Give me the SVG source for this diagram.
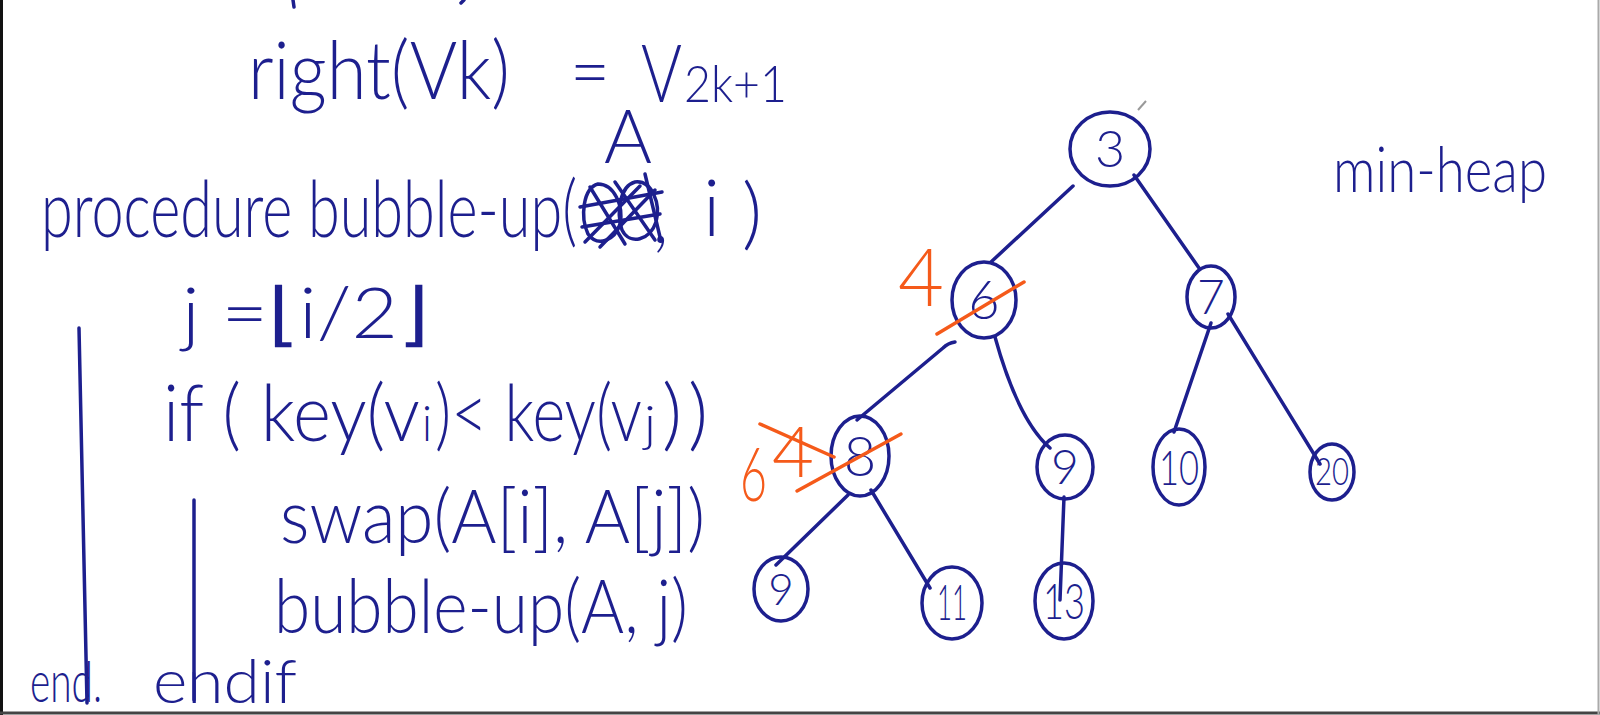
<svg xmlns="http://www.w3.org/2000/svg" width="1600" height="715" viewBox="0 0 1600 715">
<style>
.ink{fill:#1d1f8e;font-family:"Lato","Liberation Sans",sans-serif;font-weight:300}
.pen{fill:none;stroke:#1d1f8e;stroke-width:3.5;stroke-linecap:round;stroke-linejoin:round}
.node ellipse{fill:none;stroke:#1d1f8e;stroke-width:3.5}
.node text{fill:#1d1f8e;font-family:"Lato","Liberation Sans",sans-serif;font-weight:300;text-anchor:middle}
.or{fill:#f55a1a;font-family:"Lato","Liberation Sans",sans-serif;font-weight:300}
.orpen{fill:none;stroke:#f55a1a;stroke-width:3.5;stroke-linecap:round}
</style>
<rect width="1600" height="715" fill="#ffffff"/>
<g id="frame">
<line x1="1.5" y1="0" x2="1.5" y2="715" stroke="#111" stroke-width="3"/>
<line x1="0" y1="713" x2="1600" y2="713" stroke="#444" stroke-width="3"/>
<line x1="1598.5" y1="0" x2="1598.5" y2="715" stroke="#aaa" stroke-width="2"/>
</g>
<g id="top-fragments">
<path class="pen" d="M293,0 L294,7"/>
<path class="pen" d="M461,3 L464,0"/>
</g>
<g id="code">
<text class="ink" x="248" y="99" font-size="80" textLength="262" lengthAdjust="spacingAndGlyphs">right(Vk)</text>
<text class="ink" x="570" y="99" font-size="76" textLength="40" lengthAdjust="spacingAndGlyphs">=</text>
<text class="ink" x="641" y="102" font-size="80" textLength="41" lengthAdjust="spacingAndGlyphs">V</text>
<text class="ink" x="684" y="102" font-size="52" textLength="103" lengthAdjust="spacingAndGlyphs">2k+1</text>
<text class="ink" x="604" y="163" font-size="74" textLength="48" lengthAdjust="spacingAndGlyphs">A</text>
<text class="ink" x="41" y="237" font-size="78" textLength="536" lengthAdjust="spacingAndGlyphs">procedure bubble-up(</text>
<g id="scribble">
<path class="pen" d="M598,184 C583,188 580,217 588,234 C598,248 615,240 620,224 C624,206 614,184 598,184 Z"/>
<path class="pen" d="M635,182 C620,186 616,212 622,230 C630,246 650,240 656,222 C661,204 652,180 635,182 Z"/>
<path class="pen" d="M580,207 L662,192"/>
<path class="pen" d="M582,227 L660,214"/>
<path class="pen" d="M585,242 L640,186"/>
<path class="pen" d="M600,247 L655,190"/>
<path class="pen" d="M590,187 L625,244"/>
<path class="pen" d="M615,182 L655,240"/>
<path class="pen" d="M645,174 L660,237"/>
</g>
<text class="ink" x="652" y="243" font-size="78">,</text>
<text class="ink" x="703" y="236" font-size="78">i</text>
<text class="ink" x="742" y="240" font-size="78">)</text>
<text class="ink" x="182" y="338" font-size="70" textLength="247" lengthAdjust="spacingAndGlyphs">j =⌊i/2⌋</text>
<text class="ink" x="163" y="441" font-size="78" textLength="257" lengthAdjust="spacingAndGlyphs">if ( key(v</text>
<text class="ink" x="422" y="441" font-size="50" textLength="10" lengthAdjust="spacingAndGlyphs">i</text>
<text class="ink" x="435" y="441" font-size="78" textLength="207" lengthAdjust="spacingAndGlyphs">)&lt; key(v</text>
<text class="ink" x="644" y="441" font-size="50" textLength="12" lengthAdjust="spacingAndGlyphs">j</text>
<text class="ink" font-size="78"><tspan x="662" y="441">)</tspan><tspan x="688" y="441">)</tspan></text>
<text class="ink" x="280" y="543" font-size="74" textLength="425" lengthAdjust="spacingAndGlyphs">swap(A[i], A[j])</text>
<text class="ink" x="274" y="633" font-size="74" textLength="414" lengthAdjust="spacingAndGlyphs">bubble-up(A, j)</text>
<text class="ink" x="30" y="702" font-size="58" textLength="72" lengthAdjust="spacingAndGlyphs">end.</text>
<text class="ink" x="153" y="703" font-size="62" textLength="144" lengthAdjust="spacingAndGlyphs">endif</text>
<path class="pen" d="M79,328 L87,703"/>
<path class="pen" d="M194,500 L194,700"/>
</g>
<text class="ink" x="1333" y="192" font-size="64" textLength="214" lengthAdjust="spacingAndGlyphs">min-heap</text>
<g id="connectors">
<path class="pen" d="M1073,186 L991,262"/>
<path class="pen" d="M1134,175 L1199,268"/>
<path class="pen" d="M955,342 Q948,343 943,348 L857,420"/>
<path class="pen" d="M995,337 Q1018,420 1050,448"/>
<path class="pen" d="M1211,323 L1174,432"/>
<path class="pen" d="M1228,314 L1320,464"/>
<path class="pen" d="M848,495 L776,565"/>
<path class="pen" d="M871,490 L930,588"/>
<path class="pen" d="M1064,497 L1060,600"/>
</g>
<g id="node-3" class="node"><ellipse cx="1110" cy="149" rx="40" ry="37"/><text x="1110" y="167" font-size="52">3</text></g>
<g id="node-6" class="node"><ellipse cx="984" cy="300" rx="32" ry="38"/><text x="984" y="319" font-size="54">6</text></g>
<g id="node-7" class="node"><ellipse cx="1211" cy="297" rx="24" ry="31"/><text x="1211" y="314" font-size="48">7</text></g>
<g id="node-8" class="node"><ellipse cx="860" cy="456" rx="29" ry="40"/><text x="860" y="476" font-size="56">8</text></g>
<g id="node-9" class="node"><ellipse cx="1065" cy="467" rx="28" ry="32"/><text x="1065" y="484" font-size="48">9</text></g>
<g id="node-10" class="node"><ellipse cx="1179" cy="467" rx="26" ry="38"/><text x="1179" y="485" font-size="48" textLength="40" lengthAdjust="spacingAndGlyphs">10</text></g>
<g id="node-20" class="node"><ellipse cx="1332" cy="472" rx="22" ry="28"/><text x="1332" y="485" font-size="38" textLength="34" lengthAdjust="spacingAndGlyphs">20</text></g>
<g id="node-9b" class="node"><ellipse cx="781" cy="589" rx="27" ry="32"/><text x="781" y="605" font-size="44">9</text></g>
<g id="node-11" class="node"><ellipse cx="952" cy="603" rx="30" ry="36"/><text x="952" y="620" font-size="50" textLength="30" lengthAdjust="spacingAndGlyphs">11</text></g>
<g id="node-13" class="node"><ellipse cx="1064" cy="601" rx="29" ry="38"/><text x="1064" y="619" font-size="50" textLength="42" lengthAdjust="spacingAndGlyphs">13</text></g>
<g id="edits">
<text class="or" x="898" y="306" font-size="80" textLength="46" lengthAdjust="spacingAndGlyphs">4</text>
<path class="orpen" d="M937,334 L1024,282"/>
<text class="or" x="740" y="501" font-size="74" textLength="27" lengthAdjust="spacingAndGlyphs">6</text>
<text class="or" x="772" y="477" font-size="70" textLength="42" lengthAdjust="spacingAndGlyphs">4</text>
<path class="orpen" d="M760,424 L834,457"/>
<path class="orpen" d="M797,491 L901,434"/>
</g>
<path d="M1138,110 L1146,101" stroke="#999" stroke-width="2" fill="none"/>
</svg>
